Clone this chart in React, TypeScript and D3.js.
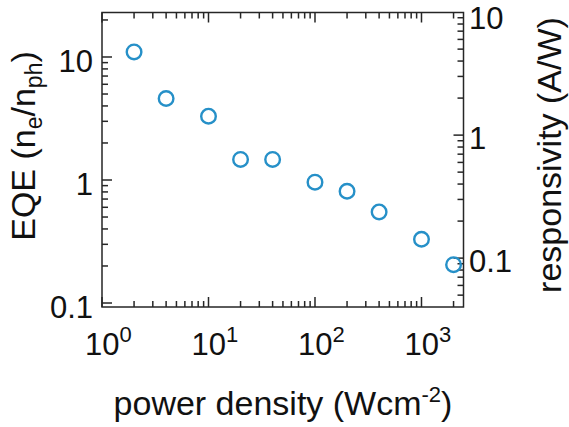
import React from "react";
import * as d3 from "d3";

const powerDensity = [2, 4, 10, 20, 40, 100, 200, 400, 1000, 2000];
const eqe = [11.0, 4.6, 3.3, 1.47, 1.47, 0.96, 0.81, 0.55, 0.33, 0.205];

// responsivity = EQE * lambda / 1240 (lambda ~ 535 nm)
const respFactor = 0.4316;

const xTickExps = [0, 1, 2, 3];
const yTickLabels = ["0.1", "1", "10"];
const rTickLabels = ["0.1", "1", "10"];

const W = 569;
const H = 427;
const left = 102;
const right = 463.5;
const top = 12.5;
const bottom = 307;

const font = "'Liberation Sans', Arial, Helvetica, sans-serif";
const axisColor = "#262626";
const markerColor = "#2690c8";

const minorTicks = (domain: number[]) => {
  const out: number[] = [];
  const lo = Math.floor(Math.log10(domain[0]));
  const hi = Math.ceil(Math.log10(domain[1]));
  for (let e = lo; e <= hi; e++) {
    for (let m = 1; m < 10; m++) {
      const v = m * Math.pow(10, e);
      if (v >= domain[0] && v <= domain[1]) out.push(v);
    }
  }
  return out;
};

const App = () => {
  const xDomain = [1, 2480];
  const yDomain = [0.0928, 23.0];
  const rDomain = [yDomain[0] * respFactor, yDomain[1] * respFactor];

  const x = d3.scaleLog().domain(xDomain).range([left, right]);
  const y = d3.scaleLog().domain(yDomain).range([bottom, top]);
  const yR = d3.scaleLog().domain(rDomain).range([bottom, top]);

  const isMajor = (v: number) => Math.abs(Math.log10(v) - Math.round(Math.log10(v))) < 1e-9;
  const len = (v: number) => (isMajor(v) ? 10 : 6);

  const xt = minorTicks(xDomain);
  const yt = minorTicks(yDomain);
  const rt = minorTicks(rDomain);

  const tickFs = 31;
  const supFs = 22;
  const titleFs = 34;

  return (
    <svg
      width={W}
      height={H}
      style={{ position: "absolute", left: 0, top: 0, background: "#fff" }}
      fontFamily={font}
    >
      <rect x={0} y={0} width={W} height={H} fill="#fff" />
      <g stroke={axisColor} strokeWidth={1.5} fill="none">
        <rect x={left} y={top} width={right - left} height={bottom - top} />
        {xt.map((v, i) => (
          <g key={"x" + i}>
            <line x1={x(v)} x2={x(v)} y1={bottom} y2={bottom - len(v)} />
            <line x1={x(v)} x2={x(v)} y1={top} y2={top + len(v)} />
          </g>
        ))}
        {yt.map((v, i) => (
          <line key={"y" + i} x1={left} x2={left + len(v)} y1={y(v)} y2={y(v)} />
        ))}
        {rt.map((v, i) => (
          <line key={"r" + i} x1={right} x2={right - len(v)} y1={yR(v)} y2={yR(v)} />
        ))}
      </g>

      {/* x tick labels */}
      {xTickExps.map((e) => (
        <text key={"xl" + e} x={x(Math.pow(10, e)) - 17} y={355} fontSize={tickFs} fill="#111">
          10
          <tspan fontSize={supFs} dy={-13}>
            {e}
          </tspan>
        </text>
      ))}

      {/* left tick labels */}
      {yTickLabels.map((t) => (
        <text
          key={"yl" + t}
          x={93}
          y={y(+t) + 0.47 * tickFs}
          textAnchor="end"
          fontSize={tickFs}
          fill="#111"
        >
          {t}
        </text>
      ))}

      {/* right tick labels */}
      {rTickLabels.map((t) => (
        <text
          key={"rl" + t}
          x={469}
          y={Math.max(yR(+t) + 0.45 * tickFs, 29)}
          textAnchor="start"
          fontSize={tickFs}
          fill="#111"
        >
          {t}
        </text>
      ))}

      {/* points */}
      {powerDensity.map((p, i) => (
        <circle
          key={"pt" + i}
          cx={x(p)}
          cy={y(eqe[i])}
          r={7.3}
          fill="none"
          stroke={markerColor}
          strokeWidth={2.4}
        />
      ))}

      {/* axis titles */}
      <text x={283} y={415} textAnchor="middle" fontSize={titleFs} fill="#111">
        power density (Wcm
        <tspan fontSize={22} dy={-13}>
          -2
        </tspan>
        <tspan dy={13}>)</tspan>
      </text>

      <text
        transform="translate(35,146) rotate(-90)"
        textAnchor="middle"
        fontSize={titleFs}
        fill="#111"
      >
        EQE (n
        <tspan fontSize={23} dy={7}>
          e
        </tspan>
        <tspan dy={-7}>/n</tspan>
        <tspan fontSize={23} dy={7}>
          ph
        </tspan>
        <tspan dy={-7}>)</tspan>
      </text>

      <text
        transform="translate(561,155) rotate(-90)"
        textAnchor="middle"
        fontSize={titleFs}
        fill="#111"
      >
        responsivity (A/W)
      </text>
    </svg>
  );
};

export default App;
